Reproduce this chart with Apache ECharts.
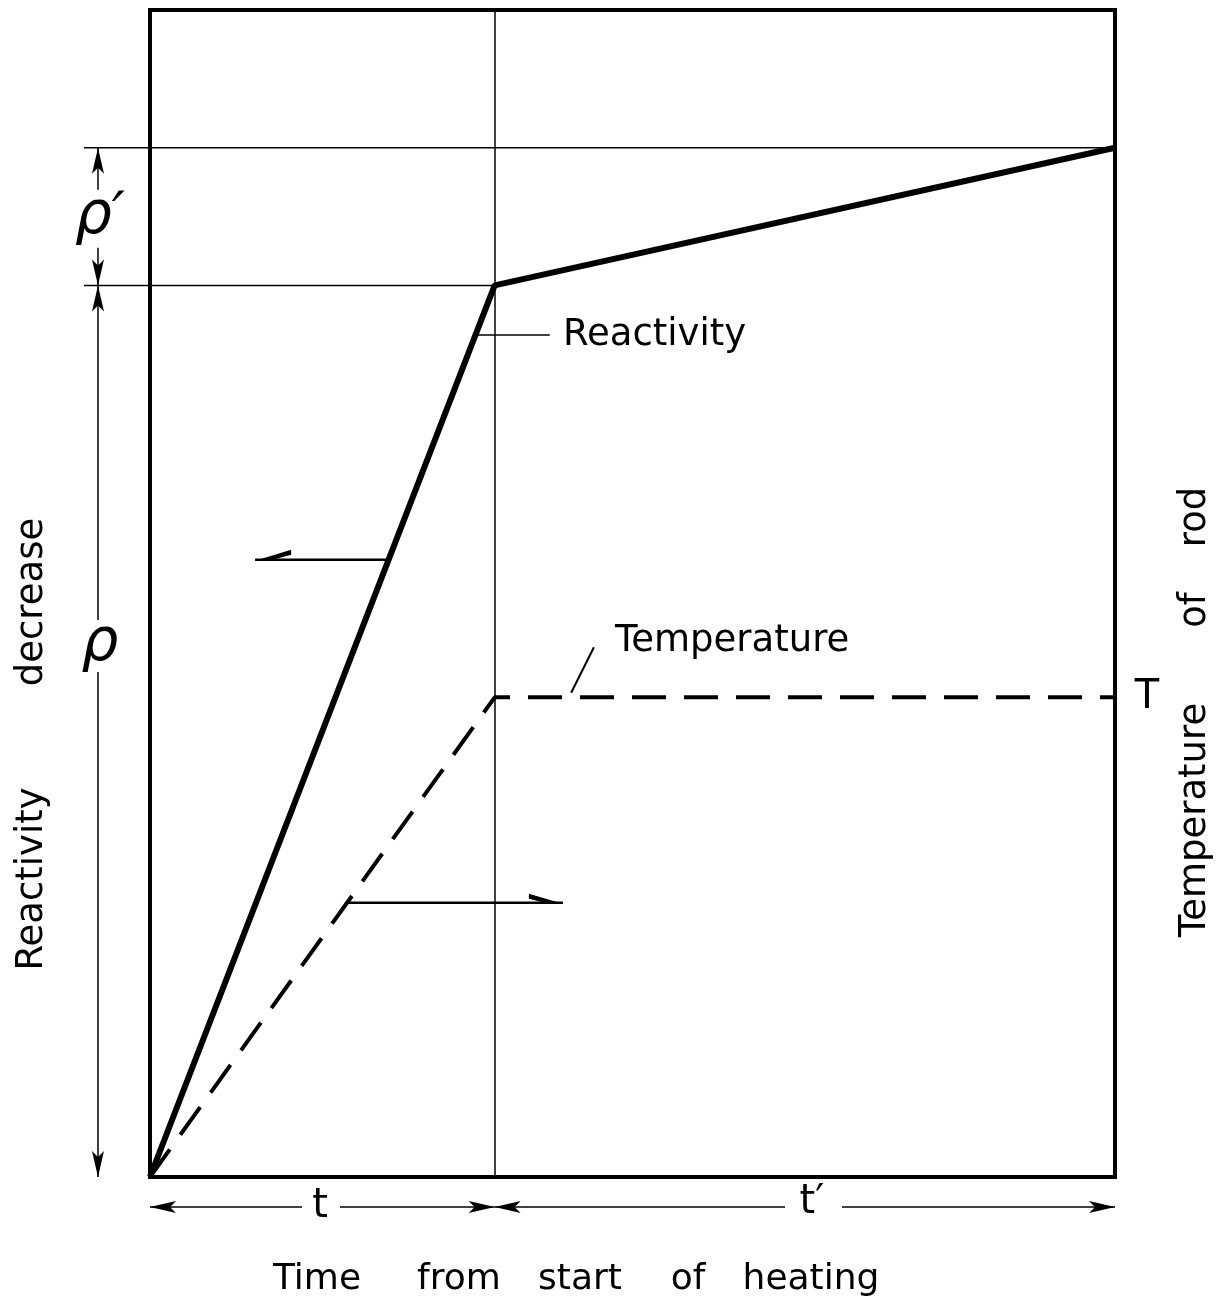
<!DOCTYPE html>
<html>
<head>
<meta charset="utf-8">
<script src="https://cdn.jsdelivr.net/npm/echarts@6/dist/echarts.min.js"></script>
<style>
  html, body { margin: 0; padding: 0; background: #fff; }
  #main { width: 1223px; height: 1305px; }
</style>
</head>
<body>
<div id="main"></div>
<script>
// time from start of heating (t = 10, t + t' = 28), arbitrary units
var timePoints = [0, 10, 28];
// reactivity decrease (rho at t, rho + rho' at end)
var reactivity = [0, 76.4, 88.2];
// temperature of rod, rises to T then stays flat
var temperature = [0, 41.1, 41.1];

var FONT = '"DejaVu Sans", sans-serif';

var myChart = echarts.init(document.getElementById('main'));
myChart.setOption({
    backgroundColor: '#fff',
    animation: false,
    grid: {
        left: 150, top: 10, right: 108, bottom: 128,
        show: true, borderColor: '#000', borderWidth: 4
    },
    xAxis: {
        type: 'value', min: 0, max: 28,
        axisLine: { show: false }, axisTick: { show: false },
        axisLabel: { show: false }, splitLine: { show: false }
    },
    yAxis: {
        type: 'value', min: 0, max: 100,
        axisLine: { show: false }, axisTick: { show: false },
        axisLabel: { show: false }, splitLine: { show: false }
    },
    series: [{
        name: 'Reactivity',
        type: 'line',
        symbol: 'none',
        data: timePoints.map(function (t, i) { return [t, reactivity[i]]; }),
        lineStyle: { color: '#000', width: 6 },
        markLine: {
            silent: true, symbol: 'none', label: { show: false },
            lineStyle: { color: '#000', width: 1.5, type: 'solid' },
            data: [{ xAxis: timePoints[1] }]
        },
        z: 3
    }, {
        name: 'Temperature',
        type: 'line',
        symbol: 'none',
        data: timePoints.map(function (t, i) { return [t, temperature[i]]; }),
        lineStyle: { color: '#000', width: 4, type: [34, 18] },
        z: 3
    }]
});

function px(x, y) {
    return myChart.convertToPixel({ gridIndex: 0 }, [x, y]);
}

function seg(x1, y1, x2, y2, w) {
    return { type: 'line', shape: { x1: x1, y1: y1, x2: x2, y2: y2 },
             style: { stroke: '#000', lineWidth: w || 1.5 }, z: 10 };
}

// narrow arrowhead with tip at (x, y) pointing in direction (dx, dy)
function head(x, y, dx, dy) {
    var len = 26, wid = 6;
    var bx = x - dx * len, by = y - dy * len;
    var nx = -dy * wid, ny = dx * wid;
    return { type: 'polygon',
             shape: { points: [[x, y], [bx + nx, by + ny], [bx + dx * 6, by + dy * 6], [bx - nx, by - ny]] },
             style: { fill: '#000' }, z: 10 };
}

function txt(x, y, s, size, opts) {
    opts = opts || {};
    return { type: 'text', x: x, y: y, rotation: opts.rot || 0,
             style: { text: s, font: (opts.style || 'normal') + ' ' + size + 'px ' + FONT,
                      fill: '#000', align: opts.align || 'left', verticalAlign: 'middle' },
             z: 10 };
}

var o = px(0, 0);
var pT = px(timePoints[1], 0);
var pE = px(timePoints[2], 0);
var yTop = px(0, reactivity[2])[1];
var yMid = px(0, reactivity[1])[1];
var yTemp = px(0, temperature[1])[1];
var dimX = o[0] - 52;
var dimY = o[1] + 30;

var g = [];
// reference lines out to the left
g.push(seg(o[0] - 66, yTop, pE[0], yTop, 1.5));
g.push(seg(o[0] - 66, yMid, pT[0], yMid, 1.5));

// vertical dimension rho' and rho
g.push(seg(dimX, yTop, dimX, yTop + 42));
g.push(seg(dimX, yTop + 100, dimX, yMid));
g.push(seg(dimX, yMid, dimX, 620));
g.push(seg(dimX, 672, dimX, o[1]));
g.push(head(dimX, yTop, 0, -1));
g.push(head(dimX, yMid, 0, 1));
g.push(head(dimX, yMid, 0, -1));
g.push(head(dimX, o[1], 0, 1));
g.push(txt(dimX + 2, yTop + 70, 'ρ′', 58, { align: 'center', style: 'italic' }));
g.push(txt(dimX + 2, 645, 'ρ', 58, { align: 'center', style: 'italic' }));

// horizontal dimension t and t'
g.push(seg(o[0], dimY, 302, dimY));
g.push(seg(340, dimY, pT[0], dimY));
g.push(seg(pT[0], dimY, 785, dimY));
g.push(seg(842, dimY, pE[0], dimY));
g.push(head(o[0], dimY, -1, 0));
g.push(head(pT[0], dimY, 1, 0));
g.push(head(pT[0], dimY, -1, 0));
g.push(head(pE[0], dimY, 1, 0));
g.push(txt(320, dimY, 't', 40, { align: 'center' }));
g.push(txt(812, dimY - 4, 't′', 40, { align: 'center' }));

// labels with leaders
var lr1 = px(9.44, 72.15), lr2 = px(11.6, 72.15);
g.push(seg(lr1[0], lr1[1], lr2[0], lr2[1], 1.5));
g.push(txt(563, lr1[1], 'Reactivity', 37));
var lt1 = px(12.22, 41.5), lt2 = px(12.88, 45.4);
g.push(seg(lt1[0], lt1[1], lt2[0], lt2[1], 2));
g.push(txt(615, 641, 'Temperature', 37));
g.push(txt(pE[0] + 32, yTemp, 'T', 40, { align: 'center' }));

// pointer arrows to the axes
var a1 = px(6.92, 52.9), a2 = px(3.05, 52.9);
g.push(seg(a1[0], a1[1], a2[0], a2[1], 2.5));
g.push({ type: 'polygon', shape: { points: [[a2[0], a2[1] + 1], [a2[0] + 36, a2[1] - 10], [a2[0] + 36, a2[1] - 5], [a2[0] + 14, a2[1] + 1]] },
         style: { fill: '#000' }, z: 10 });
var b1 = px(5.71, 23.5), b2 = px(11.98, 23.5);
g.push(seg(b1[0], b1[1], b2[0], b2[1], 2.5));
g.push({ type: 'polygon', shape: { points: [[b2[0], b2[1] + 1], [b2[0] - 34, b2[1] - 9], [b2[0] - 34, b2[1] - 4], [b2[0] - 14, b2[1] + 1]] },
         style: { fill: '#000' }, z: 10 });

// axis titles
var bottomWords = [['Time', 317], ['from', 459], ['start', 580], ['of', 688], ['heating', 811]];
bottomWords.forEach(function (w) { g.push(txt(w[1], 1280, w[0], 36, { align: 'center' })); });
var leftWords = [['Reactivity', 879], ['decrease', 602]];
leftWords.forEach(function (w) { g.push(txt(32, w[1], w[0], 37, { align: 'center', rot: Math.PI / 2 })); });
var rightWords = [['Temperature', 820], ['of', 610], ['rod', 517]];
rightWords.forEach(function (w) { g.push(txt(1195, w[1], w[0], 37, { align: 'center', rot: Math.PI / 2 })); });

myChart.setOption({ graphic: { elements: g } });
</script>
</body>
</html>
